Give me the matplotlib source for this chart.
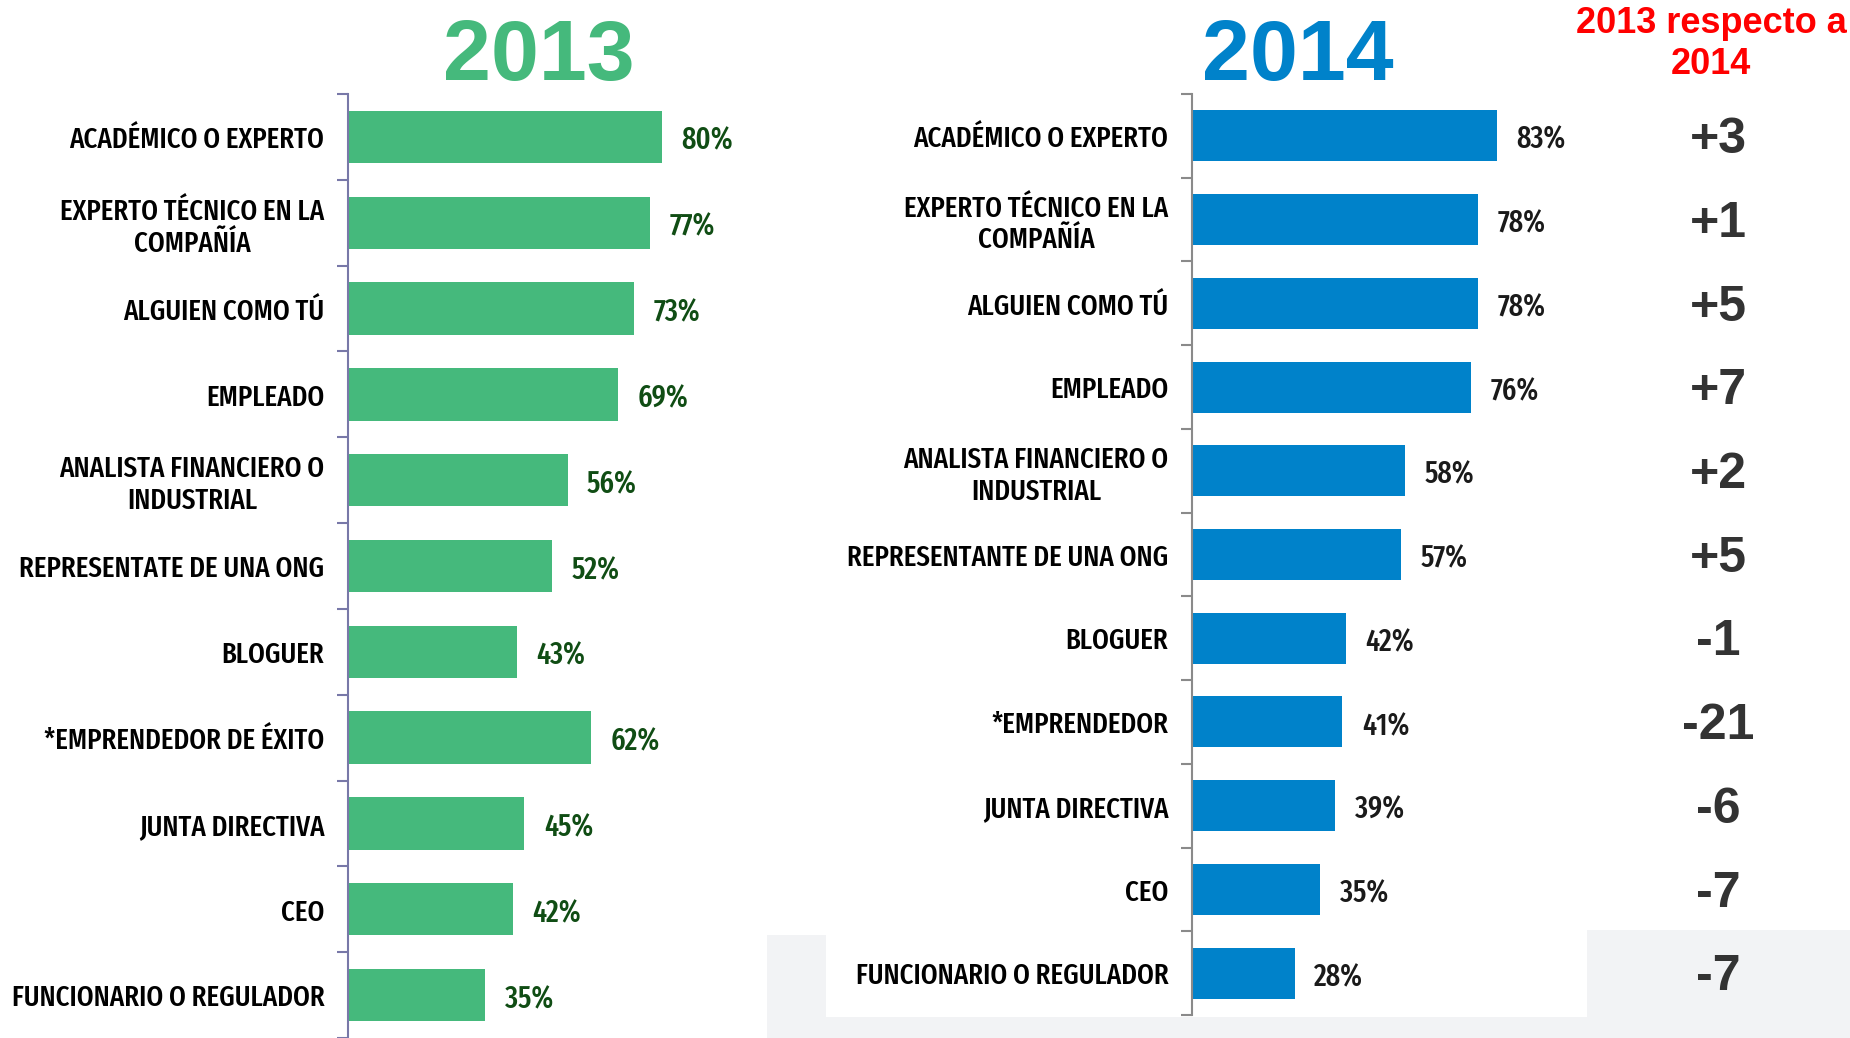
import matplotlib
matplotlib.use("Agg")
import matplotlib.pyplot as plt
from matplotlib.patches import Rectangle
from matplotlib.transforms import blended_transform_factory

plt.rcParams["font.family"] = ["Fira Sans Extra Condensed", "Archivo Narrow", "DejaVu Sans"]

# data
cats_2013 = [
    "ACADÉMICO O EXPERTO",
    "EXPERTO TÉCNICO EN LA\nCOMPAÑÍA",
    "ALGUIEN COMO TÚ",
    "EMPLEADO",
    "ANALISTA FINANCIERO O\nINDUSTRIAL",
    "REPRESENTATE DE UNA ONG",
    "BLOGUER",
    "*EMPRENDEDOR DE ÉXITO",
    "JUNTA DIRECTIVA",
    "CEO",
    "FUNCIONARIO O REGULADOR",
]
vals_2013 = [80, 77, 73, 69, 56, 52, 43, 62, 45, 42, 35]

cats_2014 = [
    "ACADÉMICO O EXPERTO",
    "EXPERTO TÉCNICO EN LA\nCOMPAÑÍA",
    "ALGUIEN COMO TÚ",
    "EMPLEADO",
    "ANALISTA FINANCIERO O\nINDUSTRIAL",
    "REPRESENTANTE DE UNA ONG",
    "BLOGUER",
    "*EMPRENDEDOR",
    "JUNTA DIRECTIVA",
    "CEO",
    "FUNCIONARIO O REGULADOR",
]
vals_2014 = [83, 78, 78, 76, 58, 57, 42, 41, 39, 35, 28]

diffs = ["+3", "+1", "+5", "+7", "+2", "+5", "-1", "-21", "-6", "-7", "-7"]

GREEN = "#45b97c"
BLUE = "#0082ca"
W, H = 1850, 1038

fig = plt.figure(figsize=(W / 100, H / 100), dpi=100)

# light background band at the bottom right
bg = fig.add_axes([0, 0, 1, 1], zorder=-5)
bg.set_xlim(0, W)
bg.set_ylim(H, 0)
bg.axis("off")
bg.add_patch(Rectangle((767, 935), W - 767, H - 935, color="#f2f3f5", lw=0))
bg.add_patch(Rectangle((1587, 930), W - 1587, 10, color="#f2f3f5", lw=0))
bg.add_patch(Rectangle((826, 90), 1587 - 826, 1017 - 90, color="white", lw=0))


def draw_panel(ax, cats, vals, color, val_color, spine_color):
    n = len(cats)
    y = list(range(n))
    ax.barh(y, vals, height=0.61, color=color, zorder=2)
    ax.set_xlim(0, 100)
    ax.set_ylim(n - 0.5, -0.5)
    ax.set_yticks(y)
    ax.set_yticklabels(cats, fontsize=21, fontweight=500,
                       multialignment="center", linespacing=1.15)
    ax.tick_params(axis="y", which="major", length=0, pad=17)
    ax.set_yticks([i - 0.5 for i in range(n + 1)], minor=True)
    ax.tick_params(axis="y", which="minor", length=8, width=1.5,
                   color=spine_color)
    ax.set_xticks([])
    for s in ["top", "right", "bottom"]:
        ax.spines[s].set_visible(False)
    ax.spines["left"].set_color(spine_color)
    ax.spines["left"].set_linewidth(1.5)
    ax.patch.set_alpha(0)
    for i, v in enumerate(vals):
        ax.annotate(f"{v}%", (v, i), xytext=(14, -3), textcoords="offset points",
                    ha="left", va="center", fontsize=22, fontweight=500,
                    color=val_color)


ax1 = fig.add_axes([348 / W, 0.0, 392 / W, 1 - 94 / H])
draw_panel(ax1, cats_2013, vals_2013, GREEN, "#104d14", "#7878a8")

ax2 = fig.add_axes([1192 / W, 1 - 1015 / H, 367 / W, (1015 - 94) / H])
draw_panel(ax2, cats_2014, vals_2014, BLUE, "#1a1a1a", "#8a8a8a")

# titles
fig.text(539 / W, 1 - 80 / H, "2013", ha="center", va="baseline",
         fontsize=62, fontweight="bold", color=GREEN, family="Liberation Sans")
fig.text(1298 / W, 1 - 80 / H, "2014", ha="center", va="baseline",
         fontsize=62, fontweight="bold", color=BLUE, family="Liberation Sans")
fig.text(1711 / W, 1 - 44 / H, "2013 respecto a\n2014", ha="center", va="center",
         fontsize=26, fontweight="bold", color="#ff0000", linespacing=1.2,
         family="Liberation Sans")

# differences column
tr = blended_transform_factory(fig.transFigure, ax2.transData)
for i, d in enumerate(diffs):
    ax2.text(1718 / W, i + 0.05, d, transform=tr, ha="center", va="center",
             fontsize=36, fontweight="bold", color="#333333",
             family="Liberation Sans", clip_on=False)

fig.savefig("out.png", dpi=100)
